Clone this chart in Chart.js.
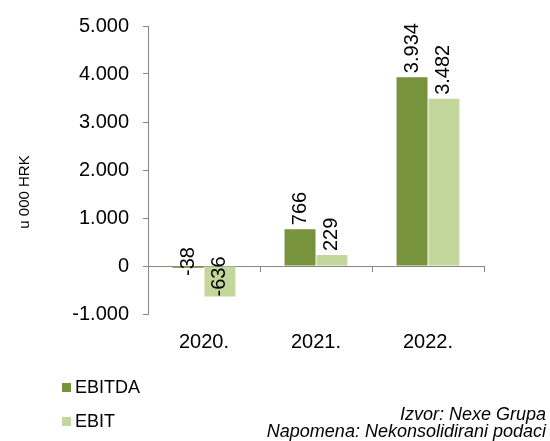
<!DOCTYPE html>
<html>
<head>
<meta charset="utf-8">
<script src="https://cdn.jsdelivr.net/npm/chart.js@4"></script>
<style>
  html, body { margin:0; padding:0; background:#fff; }
  #wrap { position:relative; width:550px; height:441px; font-family:"Liberation Sans", Arial, sans-serif; color:#000; }
  canvas { position:absolute; left:0; top:0; }
  .leg { position:absolute; left:62px; font-size:18px; line-height:20px; }
  .leg span { display:inline-block; width:9px; height:9px; margin-right:4px; vertical-align:1px; }
  #src { position:absolute; right:4px; top:406px; font-size:18px; line-height:17px; font-style:italic; text-align:right; }
</style>
</head>
<body>
<div id="wrap">
  <canvas id="chart" width="550" height="441"></canvas>
  <div class="leg" style="top:377px"><span style="background:#77933C"></span>EBITDA</div>
  <div class="leg" style="top:411px"><span style="background:#C3D69B"></span>EBIT</div>
  <div id="src">Izvor: Nexe Grupa<br>Napomena: Nekonsolidirani podaci</div>
</div>
<script>
// podaci
const years = ['2020.', '2021.', '2022.'];
const ebitda = [-38, 766, 3934];
const ebit = [-636, 229, 3482];
const seriesNames = ['EBITDA', 'EBIT'];
const colors = ['#77933C', '#C3D69B'];

const fmt = v => String(Math.abs(v)).replace(/\B(?=(\d{3})+(?!\d))/g, '.');
const fmtNum = v => (v < 0 ? '-' : '') + fmt(v);

// linija na nuli + oznake između kategorija
const zeroAxis = {
  id: 'zeroAxis',
  beforeDatasetsDraw(chart) {
    const { ctx, chartArea, scales } = chart;
    const y0 = scales.y.getPixelForValue(0);
    ctx.save();
    ctx.strokeStyle = '#868686';
    ctx.lineWidth = 1;
    ctx.beginPath();
    ctx.moveTo(chartArea.left, y0 + 0.5);
    ctx.lineTo(chartArea.right, y0 + 0.5);
    const step = (chartArea.right - chartArea.left) / years.length;
    for (let i = 0; i <= years.length; i++) {
      const x = Math.round(chartArea.left + i * step) + 0.5;
      ctx.moveTo(x, y0);
      ctx.lineTo(x, y0 + 6);
    }
    ctx.stroke();
    ctx.restore();
  }
};

// rotirane oznake vrijednosti
const barLabels = {
  id: 'barLabels',
  afterDatasetsDraw(chart) {
    const { ctx, scales } = chart;
    const y0 = scales.y.getPixelForValue(0);
    ctx.save();
    ctx.font = '20px "Liberation Sans", Arial, sans-serif';
    ctx.fillStyle = '#000';
    ctx.textBaseline = 'middle';
    ctx.textAlign = 'left';
    chart.data.datasets.forEach((ds, di) => {
      chart.getDatasetMeta(di).data.forEach((bar, i) => {
        const v = ds.data[i];
        let start;
        if (v >= 0) start = bar.y - 4;
        else start = Math.max(bar.y, y0 + 10);
        ctx.save();
        ctx.translate(bar.x, start);
        ctx.rotate(-Math.PI / 2);
        ctx.fillText(fmtNum(v), 0, 0);
        ctx.restore();
      });
    });
    ctx.restore();
  }
};

// naslov osi y
const yTitle = {
  id: 'yTitle',
  afterDraw(chart) {
    const { ctx } = chart;
    ctx.save();
    ctx.font = '15px "Liberation Sans", Arial, sans-serif';
    ctx.fillStyle = '#000';
    ctx.textAlign = 'center';
    ctx.textBaseline = 'middle';
    ctx.translate(25, 192);
    ctx.rotate(-Math.PI / 2);
    ctx.fillText('u 000 HRK', 0, 0);
    ctx.restore();
  }
};

new Chart(document.getElementById('chart'), {
  type: 'bar',
  data: {
    labels: years,
    datasets: [
      { label: seriesNames[0], data: ebitda, backgroundColor: colors[0] },
      { label: seriesNames[1], data: ebit, backgroundColor: colors[1] }
    ]
  },
  options: {
    responsive: false,
    animation: false,
    events: [],
    categoryPercentage: 0.57,
    barPercentage: 0.97,
    layout: { padding: { left: 0, right: 66, top: 25, bottom: 79 } },
    plugins: { legend: { display: false }, tooltip: { enabled: false } },
    scales: {
      x: {
        grid: { display: false },
        border: { display: false },
        ticks: { color: '#000', font: { size: 20, family: '"Liberation Sans", Arial, sans-serif' }, padding: 8 }
      },
      y: {
        min: -1000,
        max: 5000,
        afterFit: s => { s.width = 148; },
        border: { color: '#868686' },
        grid: { drawOnChartArea: false, drawTicks: true, tickLength: 5, color: '#868686' },
        ticks: {
          stepSize: 1000,
          padding: 14,
          color: '#000',
          font: { size: 20, family: '"Liberation Sans", Arial, sans-serif' },
          callback: v => fmtNum(v)
        }
      }
    }
  },
  plugins: [zeroAxis, barLabels, yTitle]
});
</script>
</body>
</html>
